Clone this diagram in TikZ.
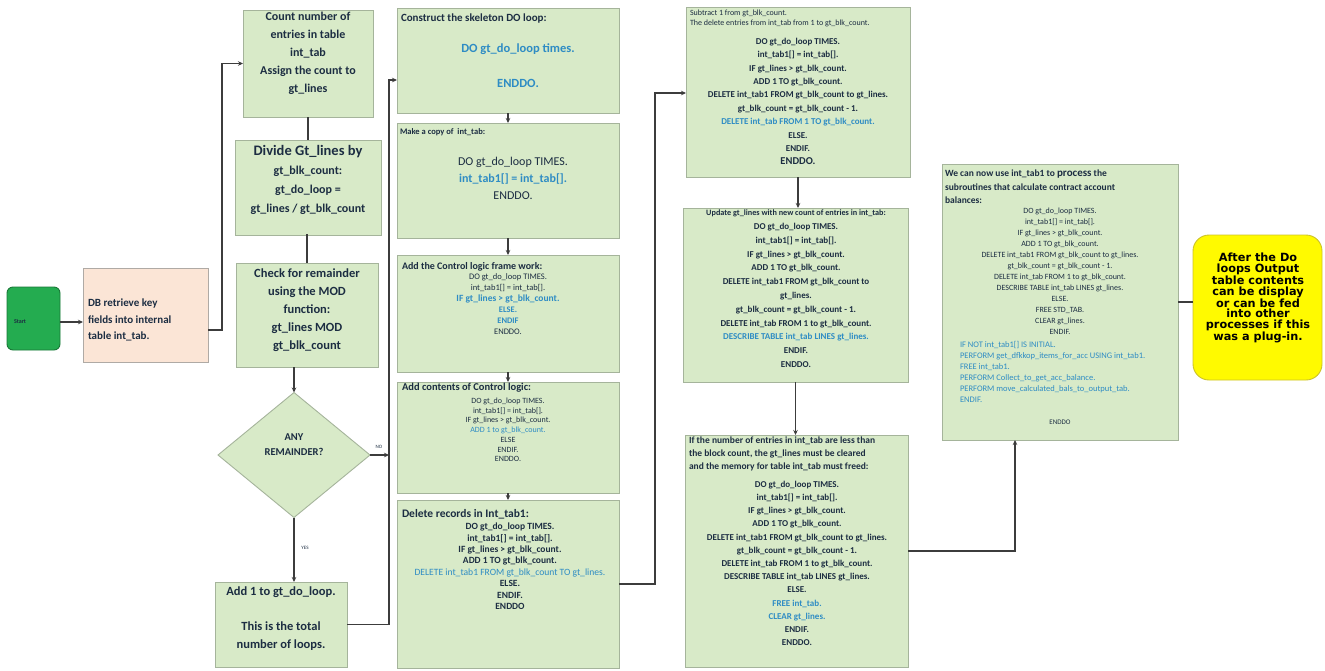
\documentclass[tikz,border=0pt]{standalone}
\usepackage{fontspec}
\setmainfont{Carlito}
\newfontfamily\yfont{DejaVu Sans}
\usetikzlibrary{shapes.geometric,arrows.meta,fit}
\definecolor{gfill}{RGB}{216,234,200}
\definecolor{gborder}{RGB}{165,180,155}
\definecolor{dbfill}{RGB}{251,229,214}
\definecolor{dbborder}{RGB}{175,170,165}
\definecolor{sfill}{RGB}{36,172,80}
\definecolor{sborder}{RGB}{25,120,55}
\definecolor{yfill}{RGB}{255,250,0}
\definecolor{yborder}{RGB}{205,195,40}
\definecolor{tdark}{RGB}{28,45,66}
\definecolor{tblue}{RGB}{46,140,196}
\definecolor{lineC}{RGB}{60,60,60}
\newcommand\fs[2]{\fontsize{#1}{#2}\selectfont}
\newcommand\bl[1]{\textcolor{tblue}{#1}}
\tikzset{
  gbox/.style={draw=gborder, fill=gfill, line width=0.9pt, inner sep=0pt, outer sep=0pt},
  dbbox/.style={draw=dbborder, fill=dbfill, line width=0.9pt, inner sep=0pt, outer sep=0pt},
  startbox/.style={draw=sborder, fill=sfill, line width=0.9pt, rounded corners=6pt, inner sep=0pt, outer sep=0pt},
  ybox/.style={draw=yborder, fill=yfill, line width=0.9pt, rounded corners=16pt, inner sep=0pt, outer sep=0pt},
  dmd/.style={diamond, draw=gborder, fill=gfill, line width=0.9pt, inner sep=0pt, outer sep=0pt},
  tx/.style={inner sep=0pt, outer sep=0pt, text=tdark, align=center},
  conn/.style={draw=lineC, line width=1.3pt},
  arr/.style={conn, -{Stealth[length=5pt,width=4.5pt]}}
}
\begin{document}
\begin{tikzpicture}[x=1pt,y=-1pt]
\useasboundingbox (0,0) rectangle (1325,670);
\fill[white] (0,0) rectangle (1325,670);

% ---------- Start and DB ----------
\node[startbox, fit={(7,287) (60,350)}] (start) {};
\node[tx, font=\bfseries\fs{6}{7}, anchor=west] (startT) at (14,322) {Start};
\node[dbbox, fit={(83,268) (208,362)}] (db) {};
\node[tx, align=left, font=\bfseries\fs{11}{16.5}, anchor=north west] (dbT) at (88,299) {DB retrieve key\\fields into internal\\table int\_tab.};

% ---------- Column 2 ----------
\node[gbox, fit={(243,10) (373,117)}] (count) {};
\node[tx, font=\bfseries\fs{12}{18}, anchor=north] (countT) at (308,12) {Count number of\\entries in table\\int\_tab\\Assign the count to\\gt\_lines};
\node[gbox, fit={(235,140) (381,235)}] (divide) {};
\node[tx, font=\bfseries\fs{12}{19}, anchor=north] (divideT) at (308,145) {{\fs{14.5}{19}Divide Gt\_lines by}\\gt\_blk\_count:\\gt\_do\_loop =\\gt\_lines / gt\_blk\_count};
\node[gbox, fit={(236,263) (378,367)}] (check) {};
\node[tx, font=\bfseries\fs{12.5}{18}, anchor=north] (checkT) at (307,269) {Check for remainder\\using the MOD\\function:\\gt\_lines MOD\\gt\_blk\_count};
\node[dmd, minimum width=152pt, minimum height=125pt] (dec) at (294,455) {};
\node[tx, font=\bfseries\fs{10.5}{15}] (decT) at (294,445) {ANY\\REMAINDER?};
\node[gbox, fit={(215,582) (347,667)}] (add1) {};
\node[tx, font=\bfseries\fs{12.5}{17.5}, anchor=north] (add1T) at (281,587) {Add 1 to gt\_do\_loop.\\[17.5pt]This is the total\\number of loops.};
\node[tx, font=\fs{5}{6}] (yes) at (305,548) {YES};
\node[tx, font=\fs{5}{6}] (no) at (379,447) {NO};

% ---------- Column 3 ----------
\node[gbox, fit={(397,8) (619,113)}] (construct) {};
\node[tx, align=left, font=\bfseries\fs{11}{13}, anchor=north west] (constructH) at (401,14) {Construct the skeleton DO loop:};
\node[tx, text=tblue, font=\bfseries\fs{12.5}{35}, anchor=north] (constructB) at (518,44) {DO gt\_do\_loop times.\\ENDDO.};

\node[gbox, fit={(397,123) (619,238)}] (copy) {};
\node[tx, align=left, font=\bfseries\fs{8.5}{10}, anchor=north west] (copyH) at (400,129) {Make a copy of~ int\_tab:};
\node[tx, font=\fs{12}{17}, anchor=north] (copyB) at (513,157) {DO gt\_do\_loop TIMES.\\\bl{\bfseries int\_tab1[] = int\_tab[].}\\ENDDO.};

\node[gbox, fit={(397,255) (619,372)}] (frame) {};
\node[tx, align=left, font=\bfseries\fs{10}{12}, anchor=north west] (frameH) at (402,262) {Add the Control logic frame work:};
\node[tx, font=\fs{8.5}{11}, anchor=north] (frameB) at (508,274) {DO gt\_do\_loop TIMES.\\int\_tab1[] = int\_tab[].\\\bl{\bfseries\fs{9.5}{11}IF gt\_lines > gt\_blk\_count.}\\\bl{\bfseries ELSE.}\\\bl{\bfseries ENDIF}\\ENDDO.};

\node[gbox, fit={(397,382) (619,493)}] (contents) {};
\node[tx, align=left, font=\bfseries\fs{10.5}{12}, anchor=north west] (contentsH) at (402,383) {Add contents of Control logic:};
\node[tx, font=\fs{8}{9.7}, anchor=north] (contentsB) at (508,398) {DO gt\_do\_loop TIMES.\\int\_tab1[] = int\_tab[].\\IF gt\_lines > gt\_blk\_count.\\\bl{ADD 1 to gt\_blk\_count.}\\ELSE\\ENDIF.\\ENDDO.};

\node[gbox, fit={(397,500) (619,668)}] (delete) {};
\node[tx, align=left, font=\bfseries\fs{11.5}{13}, anchor=north west] (deleteH) at (402,509) {Delete records in Int\_tab1:};
\node[tx, font=\bfseries\fs{9.5}{11.4}, anchor=north] (deleteB) at (510,523) {DO gt\_do\_loop TIMES.\\int\_tab1[] = int\_tab[].\\IF gt\_lines > gt\_blk\_count.\\ADD 1 TO gt\_blk\_count.\\\bl{\mdseries\fs{9.6}{11.4}DELETE int\_tab1 FROM gt\_blk\_count TO gt\_lines.}\\ELSE.\\ENDIF.\\ENDDO};

% ---------- Column 4 ----------
\node[gbox, fit={(686,7) (910,177)}] (subtract) {};
\node[tx, align=left, font=\fs{8}{10}, anchor=north west] (subtractH) at (690,10) {Subtract 1 from gt\_blk\_count.\\The delete entries from int\_tab from 1 to gt\_blk\_count.};
\node[tx, font=\bfseries\fs{9}{13.4}, anchor=north] (subtractB) at (798,38) {DO gt\_do\_loop TIMES.\\int\_tab1[] = int\_tab[].\\IF gt\_lines > gt\_blk\_count.\\ADD 1 TO gt\_blk\_count.\\DELETE int\_tab1 FROM gt\_blk\_count to gt\_lines.\\gt\_blk\_count = gt\_blk\_count - 1.\\\bl{DELETE int\_tab FROM 1 TO gt\_blk\_count.}\\ELSE.\\ENDIF.\\{\fs{10.5}{13.4}ENDDO.}};

\node[gbox, fit={(683,208) (908,382)}] (update) {};
\node[tx, font=\bfseries\fs{9}{13.8}, anchor=north] (updateB) at (796,210) {{\fs{8.2}{13.8}Update gt\_lines with new count of entries in int\_tab:}\\DO gt\_do\_loop TIMES.\\int\_tab1[] = int\_tab[].\\IF gt\_lines > gt\_blk\_count.\\ADD 1 TO gt\_blk\_count.\\DELETE int\_tab1 FROM gt\_blk\_count to\\gt\_lines.\\gt\_blk\_count = gt\_blk\_count - 1.\\DELETE int\_tab FROM 1 to gt\_blk\_count.\\\bl{DESCRIBE TABLE int\_tab LINES gt\_lines.}\\ENDIF.\\ENDDO.};

\node[gbox, fit={(685,435) (908,667)}] (ifbox) {};
\node[tx, align=left, font=\bfseries\fs{9.5}{13}, anchor=north west] (ifH) at (689,437) {If the number of entries in int\_tab are less than\\the block count, the gt\_lines must be cleared\\and the memory for table int\_tab must freed:};
\node[tx, font=\bfseries\fs{9}{13.2}, anchor=north] (ifB) at (797,481) {DO gt\_do\_loop TIMES.\\int\_tab1[] = int\_tab[].\\IF gt\_lines > gt\_blk\_count.\\ADD 1 TO gt\_blk\_count.\\DELETE int\_tab1 FROM gt\_blk\_count to gt\_lines.\\gt\_blk\_count = gt\_blk\_count - 1.\\DELETE int\_tab FROM 1 to gt\_blk\_count.\\DESCRIBE TABLE int\_tab LINES gt\_lines.\\ELSE.\\\bl{FREE int\_tab.}\\\bl{CLEAR gt\_lines.}\\ENDIF.\\ENDDO.};

% ---------- Column 5 ----------
\node[gbox, fit={(942,164) (1178,440)}] (process) {};
\node[tx, align=left, font=\bfseries\fs{9.5}{13.5}, anchor=north west] (processH) at (945,170) {We can now use int\_tab1 to {\fs{11}{13.5}process} the\\subroutines that calculate contract account\\balances:};
\node[tx, font=\fs{8}{11}, anchor=north] (processB) at (1060,208) {DO gt\_do\_loop TIMES.\\int\_tab1[] = int\_tab[].\\IF gt\_lines > gt\_blk\_count.\\ADD 1 TO gt\_blk\_count.\\DELETE int\_tab1 FROM gt\_blk\_count to gt\_lines.\\gt\_blk\_count = gt\_blk\_count - 1.\\DELETE int\_tab FROM 1 to gt\_blk\_count.\\DESCRIBE TABLE int\_tab LINES gt\_lines.\\ELSE.\\FREE STD\_TAB.\\CLEAR gt\_lines.\\ENDIF.};
\node[tx, align=left, text=tblue, font=\fs{8.5}{11}, anchor=north west] (processP) at (960,341) {IF NOT int\_tab1[] IS INITIAL.\\PERFORM get\_dfkkop\_items\_for\_acc USING int\_tab1.\\FREE int\_tab1.\\PERFORM Collect\_to\_get\_acc\_balance.\\PERFORM move\_calculated\_bals\_to\_output\_tab.\\ENDIF.};
\node[tx, font=\fs{7}{8}] (processE) at (1060,422) {ENDDO};

% ---------- Yellow ----------
\node[ybox, fit={(1193,235) (1322,380)}] (after) {};
\node[tx, text=black, font=\yfont\bfseries\fs{11.3}{10.8}] (afterT) at (1258,298) {After the Do\\loops Output\\table contents\\can be display\\or can be fed\\into other\\processes if this\\was a plug-in.};

% ---------- Connectors ----------
\coordinate (c3in) at (389,80);
\coordinate (c4in) at (655,93);
\draw[arr] (start.east |- 0,322) -- (db.west |- 0,322);
\draw[arr] ([yshift=-15pt]db.east) -- ++(14,0) |- (count.west);
\draw[conn] (count.south) -- (divide.north);
\draw[conn] (divide.south) -- (check.south |- divide.south) -- (check.north);
\draw[arr] (check.south -| dec.north) -- (dec.north);
\draw[arr] (dec.south) -- (dec.south |- add1.north);
\draw[arr] (dec.east) -- (dec.east -| c3in);
\draw[arr] (add1.east) -| (c3in) -- (c3in -| construct.west);
\draw[arr] (construct.south) -- (copy.north);
\draw[arr] (copy.south) -- (frame.north);
\draw[arr] (frame.south) -- (contents.north);
\draw[arr] (contents.south) -- (delete.north);
\draw[arr] (delete.east) -| (c4in) -- (c4in -| subtract.west);
\draw[arr] (subtract.south) -- (subtract.south |- update.north);
\draw[arr] (update.south) -- (update.south |- ifbox.north);
\draw[arr] (ifbox.east) -| ([xshift=-45pt]process.south);
\draw[conn] (process.east) -- (process.east -| after.west);
\end{tikzpicture}
\end{document}
